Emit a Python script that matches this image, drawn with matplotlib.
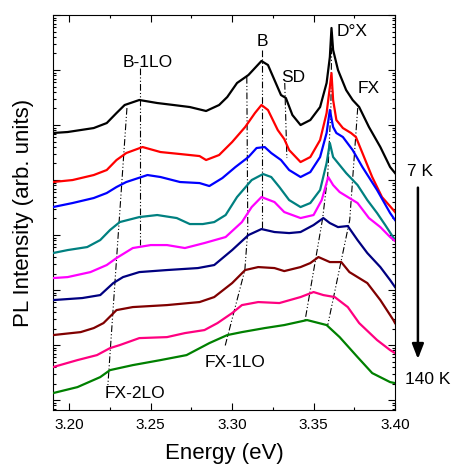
import numpy as np
import matplotlib.pyplot as plt
from matplotlib.ticker import LogLocator, MultipleLocator, NullFormatter

plt.rcParams['font.family'] = ['Liberation Sans', 'DejaVu Sans']

# PL spectra, 7 K (top) to 140 K (bottom), stacked on a log scale.
# Intensities are log10 of the offset signal (arb. units).
e_t1 = [3.190, 3.199, 3.207, 3.215, 3.223, 3.229, 3.234, 3.243, 3.254, 3.264, 3.274, 3.284, 3.292,
        3.297, 3.303, 3.310, 3.318, 3.322, 3.326, 3.330, 3.333, 3.337, 3.342, 3.348, 3.354, 3.358,
        3.360, 3.361, 3.362, 3.365, 3.370, 3.374, 3.378, 3.384, 3.391, 3.397, 3.400]
l_t1 = [4.855, 4.873, 4.909, 4.945, 5.036, 5.218, 5.364, 5.455, 5.400, 5.364, 5.327, 5.255, 5.364,
        5.509, 5.764, 5.909, 6.164, 6.091, 5.818, 5.545, 5.491, 5.182, 5.000, 5.091, 5.327, 5.764,
        6.236, 6.764, 6.364, 6.000, 5.636, 5.455, 5.327, 4.964, 4.600, 4.236, 4.127]

e_t2 = [3.190, 3.202, 3.215, 3.223, 3.229, 3.235, 3.245, 3.256, 3.268, 3.280, 3.284, 3.292, 3.300,
        3.308, 3.314, 3.318, 3.322, 3.328, 3.332, 3.335, 3.342, 3.348, 3.354, 3.358, 3.360, 3.361,
        3.362, 3.364, 3.368, 3.373, 3.376, 3.380, 3.386, 3.392, 3.399, 3.400]
l_t2 = [3.964, 4.000, 4.091, 4.182, 4.364, 4.491, 4.600, 4.509, 4.473, 4.436, 4.364, 4.455, 4.691,
        4.964, 5.218, 5.364, 5.273, 4.909, 4.745, 4.545, 4.327, 4.418, 4.727, 5.218, 5.691, 5.945,
        5.455, 5.091, 4.945, 4.855, 4.782, 4.491, 4.055, 3.691, 3.455, 3.418]

e_t3 = [3.190, 3.202, 3.215, 3.223, 3.229, 3.235, 3.248, 3.256, 3.268, 3.280, 3.286, 3.294, 3.302,
        3.310, 3.315, 3.320, 3.324, 3.330, 3.335, 3.342, 3.348, 3.354, 3.358, 3.360, 3.362, 3.364,
        3.368, 3.374, 3.380, 3.389, 3.397, 3.400]
l_t3 = [3.509, 3.582, 3.673, 3.764, 3.873, 3.964, 4.091, 4.055, 3.964, 3.945, 3.891, 4.036, 4.236,
        4.418, 4.582, 4.600, 4.491, 4.364, 4.182, 4.055, 4.145, 4.418, 4.855, 5.273, 4.964, 4.855,
        4.782, 4.545, 4.236, 3.818, 3.400, 3.273]

e_t4 = [3.190, 3.199, 3.211, 3.219, 3.225, 3.231, 3.243, 3.254, 3.266, 3.274, 3.282, 3.289, 3.296,
        3.303, 3.312, 3.319, 3.324, 3.329, 3.335, 3.342, 3.348, 3.354, 3.358, 3.360, 3.362, 3.365,
        3.370, 3.377, 3.383, 3.389, 3.394, 3.400]
l_t4 = [2.673, 2.727, 2.782, 2.909, 3.091, 3.236, 3.327, 3.364, 3.309, 3.200, 3.200, 3.236, 3.364,
        3.691, 4.000, 4.109, 4.055, 3.873, 3.636, 3.509, 3.582, 3.818, 4.309, 4.673, 4.418, 4.309,
        4.127, 3.909, 3.636, 3.400, 3.182, 2.909]

e_t5 = [3.190, 3.199, 3.213, 3.223, 3.229, 3.239, 3.250, 3.260, 3.271, 3.283, 3.296, 3.306, 3.312,
        3.318, 3.326, 3.332, 3.342, 3.350, 3.355, 3.359, 3.362, 3.366, 3.372, 3.377, 3.384, 3.391,
        3.397, 3.400]
l_t5 = [2.218, 2.236, 2.327, 2.455, 2.582, 2.764, 2.818, 2.818, 2.764, 2.855, 2.964, 3.236, 3.509,
        3.691, 3.600, 3.418, 3.309, 3.364, 3.636, 4.055, 3.909, 3.782, 3.673, 3.582, 3.309, 3.145,
        2.964, 2.891]

e_t6 = [3.190, 3.208, 3.219, 3.227, 3.233, 3.243, 3.260, 3.279, 3.289, 3.300, 3.310, 3.318, 3.326,
        3.335, 3.342, 3.350, 3.356, 3.360, 3.365, 3.371, 3.377, 3.383, 3.391, 3.397, 3.400]
l_t6 = [1.818, 1.855, 1.909, 2.127, 2.236, 2.327, 2.364, 2.400, 2.455, 2.727, 3.000, 3.109, 3.055,
        3.036, 3.055, 3.182, 3.309, 3.218, 3.145, 3.164, 2.909, 2.673, 2.418, 2.182, 2.055]

e_t7 = [3.190, 3.207, 3.215, 3.221, 3.229, 3.239, 3.260, 3.280, 3.289, 3.300, 3.308, 3.316, 3.326,
        3.332, 3.342, 3.348, 3.353, 3.360, 3.367, 3.372, 3.383, 3.391, 3.399, 3.400]
l_t7 = [1.182, 1.236, 1.309, 1.400, 1.636, 1.691, 1.727, 1.782, 1.873, 2.127, 2.364, 2.418, 2.400,
        2.345, 2.418, 2.491, 2.600, 2.509, 2.509, 2.327, 2.127, 1.818, 1.455, 1.400]

e_t8 = [3.190, 3.205, 3.217, 3.225, 3.231, 3.243, 3.260, 3.271, 3.283, 3.291, 3.300, 3.306, 3.316,
        3.329, 3.342, 3.350, 3.356, 3.363, 3.371, 3.378, 3.389, 3.397, 3.400]
l_t8 = [0.600, 0.727, 0.818, 0.945, 1.000, 1.127, 1.145, 1.218, 1.273, 1.400, 1.582, 1.727, 1.782,
        1.764, 1.873, 1.964, 1.909, 1.873, 1.691, 1.400, 1.091, 0.909, 0.855]

e_t9 = [3.190, 3.205, 3.219, 3.225, 3.239, 3.256, 3.272, 3.286, 3.297, 3.306, 3.320, 3.332, 3.346,
        3.358, 3.366, 3.377, 3.386, 3.397, 3.400]
l_t9 = [0.127, 0.236, 0.418, 0.545, 0.636, 0.727, 0.818, 1.036, 1.182, 1.236, 1.309, 1.364, 1.455,
        1.364, 1.145, 0.782, 0.491, 0.327, 0.309]

colors = ['#000000', '#ff0000', '#0000ff', '#008080', '#ff00ff',
          '#000080', '#800000', '#ff0080', '#008000']

# dash-dot guide lines following the peaks (energy, log10 intensity)
g_b1lo_e, g_b1lo_l = [3.2434, 3.2434], [6.036, 2.818]
g_fx2lo_e, g_fx2lo_l = [3.2354, 3.2237], [5.309, 0.273]
g_b_e, g_b_l = [3.3182, 3.3182], [6.364, 3.127]
g_fx1lo_e, g_fx1lo_l = [3.3090, 3.3096, 3.3078, 3.2955], [5.873, 3.091, 2.364, 0.964]
g_sd_e, g_sd_l = [3.3323, 3.3336], [5.764, 4.400]
g_dx_e, g_dx_l = [3.3612, 3.3606, 3.3587, 3.3556, 3.3446], [6.691, 5.273, 4.091, 3.309, 1.418]
g_fx_e, g_fx_l = [3.3771, 3.3722, 3.3587], [5.309, 3.273, 1.364]

spectra = [(e_t1, l_t1), (e_t2, l_t2), (e_t3, l_t3), (e_t4, l_t4), (e_t5, l_t5),
           (e_t6, l_t6), (e_t7, l_t7), (e_t8, l_t8), (e_t9, l_t9)]
guides = [(g_b1lo_e, g_b1lo_l), (g_fx2lo_e, g_fx2lo_l), (g_b_e, g_b_l), (g_fx1lo_e, g_fx1lo_l),
          (g_sd_e, g_sd_l), (g_dx_e, g_dx_l), (g_fx_e, g_fx_l)]

fig = plt.figure(figsize=(4.55, 4.67), dpi=100)
ax = fig.add_axes([53 / 455, 57 / 467, 342 / 455, 395 / 467])

for (e, l), c in zip(spectra, colors):
    ax.plot(e, 10 ** np.array(l), color=c, lw=1.6, zorder=3)

for e, l in guides:
    ax.plot(e, 10 ** np.array(l), color='black', lw=0.8,
            linestyle=(0, (6, 2, 1, 2, 1, 2)), zorder=2)

ax.set_yscale('log')
ax.set_xlim(3.19, 3.40)
ax.set_ylim(10 ** -0.18, 10 ** 7)

ax.xaxis.set_major_locator(MultipleLocator(0.05))
ax.xaxis.set_minor_locator(MultipleLocator(0.025))
ax.xaxis.set_major_formatter(plt.FormatStrFormatter('%.2f'))
ax.yaxis.set_major_locator(LogLocator(base=10, numticks=20))
ax.yaxis.set_minor_locator(LogLocator(base=10, subs=np.arange(2, 10), numticks=20))
ax.yaxis.set_major_formatter(NullFormatter())
ax.yaxis.set_minor_formatter(NullFormatter())
ax.tick_params(which='both', direction='in', top=True, right=True, width=0.8)
ax.tick_params(which='major', length=5, labelsize=11, pad=6)
ax.tick_params(which='minor', length=2.5)

ax.set_xlabel('Energy (eV)', fontsize=16, labelpad=8)
ax.set_ylabel('PL Intensity (arb. units)', fontsize=16, labelpad=8)

lab = dict(transform=ax.transAxes, ha='center', va='center', fontsize=12.5)
ax.text(0.278, 0.881, 'B-1LO', **lab)
ax.text(0.611, 0.934, 'B', **lab)
ax.text(0.702, 0.843, 'SD', **lab)
ax.text(0.874, 0.959, 'D°X', **lab)
ax.text(0.924, 0.815, 'FX', **lab)
ax.text(0.240, 0.043, 'FX-2LO', **lab)
ax.text(0.532, 0.119, 'FX-1LO', **lab)
ax.text(1.073, 0.605, '7 K', clip_on=False, **lab)
ax.text(1.096, 0.076, '140 K', clip_on=False, **lab)
ax.annotate('', xy=(1.067, 0.122), xytext=(1.067, 0.570), xycoords='axes fraction',
            arrowprops=dict(arrowstyle='-|>,head_width=0.35,head_length=0.9',
                            color='black', lw=1.8))

fig.savefig('out.png', dpi=100)
